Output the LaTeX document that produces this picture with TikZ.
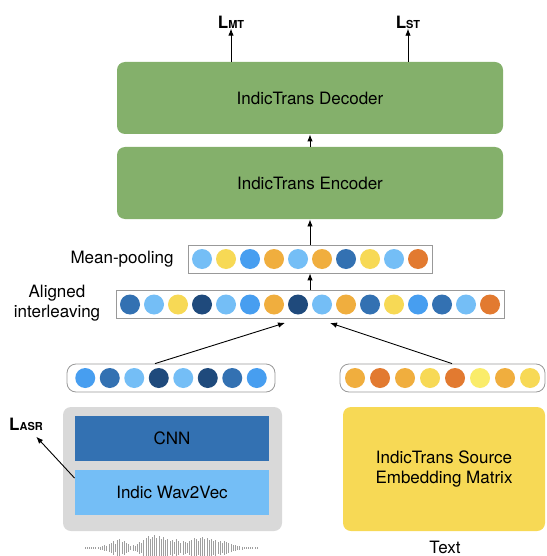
\documentclass[tikz,border=0pt]{standalone}
\usepackage{fontspec}
\setmainfont{TeX Gyre Heros}
\usetikzlibrary{arrows.meta}
\definecolor{trgreen}{HTML}{84B06B}
\definecolor{lb}{HTML}{74BEF6}
\definecolor{bb}{HTML}{479EF0}
\definecolor{mb}{HTML}{3371B2}
\definecolor{nb}{HTML}{1F4A7C}
\definecolor{yel}{HTML}{F7D955}
\definecolor{ly}{HTML}{FAEC6A}
\definecolor{org}{HTML}{F0AE3E}
\definecolor{dor}{HTML}{E27A30}
\definecolor{boxgray}{HTML}{D9D9D9}

\begin{document}
\begin{tikzpicture}[x=1pt, y=-1pt, ->, >={Latex[length=7pt,width=5.5pt]}, line width=0.9pt,
      every node/.append style={font=\fontsize{17}{20}\selectfont, inner sep=0pt},
      dot/.style={circle, minimum size=20pt, draw=none},
      vec/.style={draw=gray!80, fill=white, line width=0.8pt, minimum height=28pt}]
    \tikzstyle{block} = [rounded corners=8pt, minimum height=72pt, align=center]
    \tikzstyle{layer} = [minimum width=194pt, minimum height=45pt]
    \tikzstyle{loss} = [font=\fontsize{17}{20}\selectfont\bfseries]
    \useasboundingbox (0,0) rectangle (546,556);
    \node (dec) [block, fill=trgreen, minimum width=386pt] at (310,98) {IndicTrans Decoder};
    \node (enc) [block, fill=trgreen, minimum width=386pt] at (310,183) {IndicTrans Encoder};
    \node (lmt) [loss] at (231,22) {L{\fontsize{11}{11}\selectfont\bfseries MT}};
    \node (lst) [loss] at (408,22) {L{\fontsize{11}{11}\selectfont\bfseries ST}};
    \node (mp) [vec, minimum width=244pt] at (310,259) {};
    \foreach \c [count=\i] in {lb,yel,bb,org,lb,org,mb,yel,lb,dor}
      \node (mp\i) [dot, fill=\c] at ({310+24*(\i-5.5)},259) {};
    \node (mplabel) [anchor=east] at (174,259) {Mean-pooling};
    \node (al) [vec, minimum width=388pt] at (310,304.5) {};
    \foreach \c [count=\i] in {mb,lb,yel,nb,lb,bb,org,nb,lb,org,mb,yel,bb,mb,lb,dor}
      \node (al\i) [dot, fill=\c] at ({310+24*(\i-8.5)},304.5) {};
    \node (allabel) [align=center, font=\fontsize{17}{20}\selectfont] at (57,303) {Aligned\\interleaving};
    \node (lv) [vec, rounded corners=9pt, minimum width=208pt] at (171,378) {};
    \foreach \c [count=\i] in {bb,mb,lb,nb,lb,nb,mb,bb}
      \node (lv\i) [dot, fill=\c] at ({171+24.5*(\i-4.5)},378) {};
    \node (rv) [vec, rounded corners=9pt, minimum width=205pt] at (442.5,378) {};
    \foreach \c [count=\i] in {org,dor,org,yel,dor,ly,org,yel}
      \node (rv\i) [dot, fill=\c] at ({442.5+25*(\i-4.5)},378) {};
    \node (speech) [block, fill=boxgray, minimum width=219pt, minimum height=124pt] at (172.5,469) {};
    \node (cnn) [layer, fill=mb] at (172,438.5) {CNN};
    \node (wav) [layer, fill=lb] at (172,492) {Indic Wav2Vec};
    \node (emb) [block, fill=yel, minimum width=202pt, minimum height=124pt] at (444,469) {IndicTrans Source\\Embedding Matrix};
    \node (lasr) [loss] at (26,424) {L{\fontsize{11}{11}\selectfont\bfseries ASR}};
    \node (txt) at (445,547) {Text};
    \draw (lmt |- dec.north) -- (lmt.south);
    \draw (lst |- dec.north) -- (lst.south);
    \draw (enc.north) -- (dec.south);
    \draw (mp.north) -- (enc.south);
    \draw (al.north) -- (mp.south);
    \draw ([xshift=-16pt]lv.north) -- ([xshift=-25pt,yshift=-4pt]al.south);
    \draw ([xshift=9.5pt]rv.north) -- ([xshift=20pt,yshift=-4pt]al.south);
    \draw ([yshift=-9pt]wav.north west) -- ([xshift=-7pt,yshift=-6pt]lasr.south east);
    \foreach \h [count=\i] in {0.6,0.6,0.6,0.6,0.6,0.8,1,1.5,2,3,2.5,4,5,7,4,8,9,6,7,5,4,2,3,2.5,4,6,5,8,10,12,9,11,13,10,12,9,11,8,9,7,8,6,9,7,5,7,6,5,7,8,10,9,7,10,11,9,10,8,9,7,8,6,7,5,7,6,5,4,3,3,2,2,1.5,1,1,0.8,0.6,0.6,0.6,0.6}
      \draw[-, gray!75, line width=0.9pt] ({85+2.18*(\i-1)},{548-\h}) -- ({85+2.18*(\i-1)},{548+\h});
\end{tikzpicture}
\end{document}
